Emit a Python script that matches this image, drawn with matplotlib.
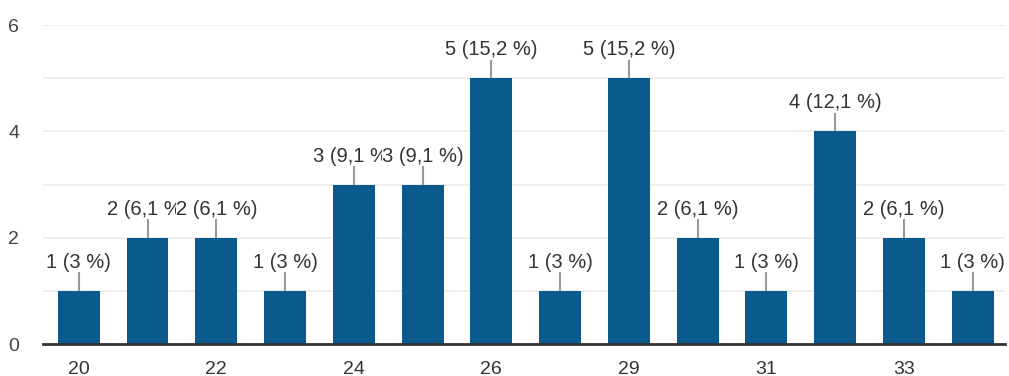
import matplotlib
matplotlib.use("Agg")
import matplotlib.pyplot as plt
from matplotlib.ticker import MultipleLocator

ages = ["20", "21", "22", "23", "24", "25", "26", "28", "29", "30", "31", "32", "33", "34"]
counts = [1, 2, 2, 1, 3, 3, 5, 1, 5, 2, 1, 4, 2, 1]
value_labels = ["1 (3 %)", "2 (6,1 %)", "2 (6,1 %)", "1 (3 %)", "3 (9,1 %)", "3 (9,1 %)",
                "5 (15,2 %)", "1 (3 %)", "5 (15,2 %)", "2 (6,1 %)", "1 (3 %)",
                "4 (12,1 %)", "2 (6,1 %)", "1 (3 %)"]

BAR = "#0b5a8d"
TEXT = "#333333"

plt.rcParams["font.family"] = ["Liberation Sans", "DejaVu Sans"]

fig = plt.figure(figsize=(10.09, 3.76), dpi=100)
ax = fig.add_axes([0.0426, 0.0851, 0.9534, 0.8484])

x = list(range(len(ages)))
ax.bar(x, counts, width=0.61, color=BAR, zorder=3)

# leader line + value label above each bar; later labels sit on top of earlier ones
for i, (c, lab) in enumerate(zip(counts, value_labels)):
    ax.plot([i, i], [c, c + 0.33], color="#999999", lw=1.5, zorder=2)
    ax.text(i, c + 0.43, lab, ha="center", va="baseline", fontsize=14.5, color=TEXT,
            zorder=4 + i, bbox=dict(facecolor="white", edgecolor="none", pad=0))

ax.set_xlim(-0.52, 13.47)
ax.set_ylim(0, 6)
ax.yaxis.set_major_locator(MultipleLocator(2))
ax.yaxis.set_minor_locator(MultipleLocator(1))
ax.grid(axis="y", which="both", color="#ebebeb", lw=1.2, zorder=0)

ax.set_xticks(x)
ax.set_xticklabels([a if i % 2 == 0 else "" for i, a in enumerate(ages)])
ax.tick_params(axis="x", length=0, pad=12, labelsize=14, labelcolor=TEXT)
ax.tick_params(axis="y", which="both", length=0, pad=17, labelsize=14, labelcolor="#444444")

for side in ["top", "right", "left"]:
    ax.spines[side].set_visible(False)
ax.spines["bottom"].set_color("#333333")
ax.spines["bottom"].set_linewidth(2)
ax.spines["bottom"].set_zorder(5)

fig.savefig("out.png", dpi=100)
